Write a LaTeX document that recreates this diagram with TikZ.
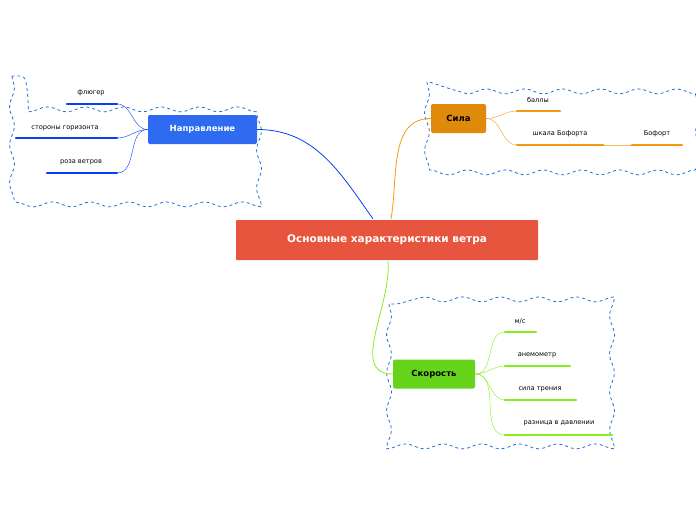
\documentclass[tikz,border=0pt]{standalone}
\usepackage{fontspec}
\setmainfont{DejaVu Sans}
\usetikzlibrary{positioning,decorations.pathmorphing}

\definecolor{redbox}{HTML}{E8553E}
\definecolor{bluebox}{HTML}{2E6BF0}
\definecolor{orangebox}{HTML}{E08A0C}
\definecolor{greenbox}{HTML}{66D41A}
\definecolor{blueline}{HTML}{0A3FF0}
\definecolor{orangeline}{HTML}{F59A12}
\definecolor{greenline}{HTML}{86EE1C}
\definecolor{cloudline}{HTML}{1E6FD9}

\begin{document}
\begin{tikzpicture}[x=1pt,y=-1pt,
  topic/.style={rounded corners=2pt, minimum height=29pt, font=\bfseries\fontsize{8.5}{10}\selectfont, inner xsep=6pt},
  leaf/.style={font=\fontsize{6.6}{8}\selectfont, inner sep=1pt},
  cloud/.style={draw=cloudline, thick, dashed, decorate,
                decoration={snake, amplitude=2.5pt, segment length=38pt}},
  link/.style={thin}
]
\useasboundingbox (0,0) rectangle (696,520);

% groups
\draw[cloud] (12,76) rectangle (262,184);
\draw[cloud] (427,82) rectangle (686,158);
\draw[cloud] (389,304) rectangle (616,444);

% central and main topics
\node[rounded corners=1pt, fill=redbox, text=white, minimum width=302pt, minimum height=40pt,
      font=\bfseries\fontsize{10.5}{12}\selectfont] (main) at (387,240) {Основные характеристики ветра};
\node[topic, fill=bluebox, text=white, minimum width=109pt] (dir) at (202.5,129.5) {Направление};
\node[topic, fill=orangebox, text=black, minimum width=55pt] (force) at (458.5,118.5) {Сила};
\node[topic, fill=greenbox, text=black, minimum width=82pt] (speed) at (434,374) {Скорость};

\draw[blueline, thick] (dir.east) to[out=0, in=125] (373,219);
\draw[orangeline, thick] (391,219) to[out=80, in=180] (force.west);
\draw[greenline, thick] (388,261) to[out=-85, in=180] (speed.west);

% Направление leaves
\node[leaf] (vane) at (91,93) {флюгер};
\node[leaf] (horiz) at (65,128) {стороны горизонта};
\node[leaf] (rose) at (81,162) {роза ветров};
\draw[blueline, line width=2.5pt, line cap=round] (67,104) coordinate (vaneL) -- (117,104) coordinate (vaneR);
\draw[blueline, line width=2.5pt, line cap=round] (16,138) -- (117,138) coordinate (horizR);
\draw[blueline, line width=2.5pt, line cap=round] (47,173) -- (117,173) coordinate (roseR);
\foreach \t in {vaneR,horizR,roseR}
  \draw[blueline, link] (dir.west) to[out=180, in=0] (\t);

% Сила leaves
\node[leaf] (balls) at (538,100) {баллы};
\node[leaf] (scale) at (560,134) {шкала Бофорта};
\node[leaf] (beaufort) at (657,134) {Бофорт};
\draw[orangeline, line width=2.5pt, line cap=round] (517,111) coordinate (ballsL) -- (560,111);
\draw[orangeline, line width=2.5pt, line cap=round] (517,145) coordinate (scaleL) -- (603,145) coordinate (scaleR);
\draw[orangeline, line width=2.5pt, line cap=round] (632,145) coordinate (beauL) -- (682,145);
\foreach \t in {ballsL,scaleL}
  \draw[orangeline, link] (force.east) to[out=0, in=180] (\t);
\draw[orangeline, link] (scaleR) to[out=0, in=180] (beauL);

% Скорость leaves
\node[leaf] (ms) at (520,321) {м/с};
\node[leaf] (anemo) at (537,355) {анемометр};
\node[leaf] (friction) at (540,389) {сила трения};
\node[leaf] (press) at (559,423) {разница в давлении};
\draw[greenline, line width=2.5pt, line cap=round] (505,332) coordinate (msL) -- (536,332);
\draw[greenline, line width=2.5pt, line cap=round] (505,366) coordinate (anemoL) -- (570,366);
\draw[greenline, line width=2.5pt, line cap=round] (505,400) coordinate (fricL) -- (576,400);
\draw[greenline, line width=2.5pt, line cap=round] (505,435) coordinate (pressL) -- (612,435);
\foreach \t in {msL,anemoL,fricL,pressL}
  \draw[greenline, link] (speed.east) to[out=0, in=180] (\t);
\end{tikzpicture}
\end{document}
